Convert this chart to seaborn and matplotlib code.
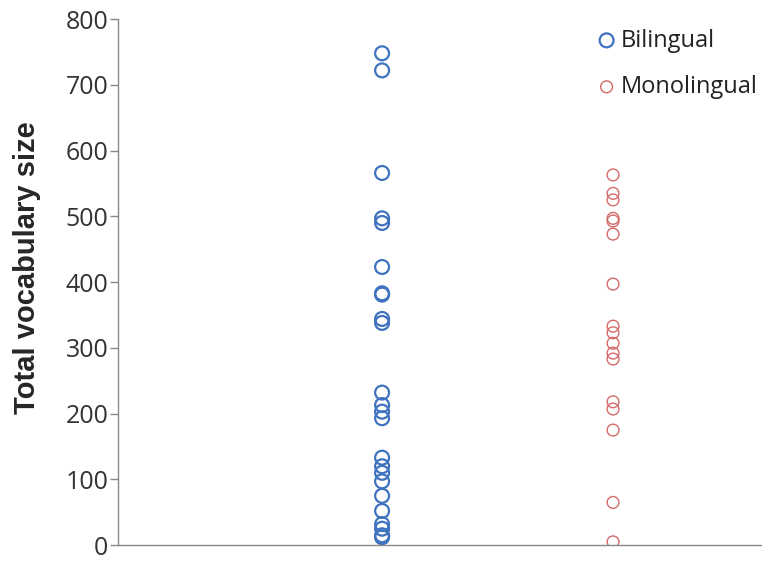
import numpy as np
import pandas as pd
import seaborn as sns
import matplotlib.pyplot as plt

groups = ['Bilingual', 'Monolingual']
bilingual = [748, 722, 566, 497, 490, 423, 383, 381, 344, 338, 232, 213, 203, 193,
             133, 120, 110, 97, 75, 52, 32, 25, 15, 12]
monolingual = [563, 535, 525, 497, 493, 473, 397, 333, 323, 307, 292, 283, 218, 207,
               175, 65, 5]
yticks = [0, 100, 200, 300, 400, 500, 600, 700, 800]

data = pd.DataFrame({
    'group': ['Bilingual'] * len(bilingual) + ['Monolingual'] * len(monolingual),
    'vocab': bilingual + monolingual,
})
data['pos'] = data['group'].map({'Bilingual': 1, 'Monolingual': 2})

sns.set_style('white')
plt.rcParams['font.family'] = ['Open Sans', 'DejaVu Sans']

fig = plt.figure(figsize=(7.62, 5.62), dpi=100)
ax = fig.add_axes([0.155, 0.030, 0.845, 0.936])

# colour, marker size, edge width
styles = {'Bilingual': ('#3F72BF', 100, 1.6), 'Monolingual': ('#D46A6A', 72, 1.0)}
for g in groups:
    c, s, lw = styles[g]
    sub = data[data['group'] == g]
    sns.scatterplot(x='pos', y='vocab', data=sub, ax=ax, s=s, marker='o',
                    facecolor='none', edgecolor=c, linewidth=lw, label=g)

ax.set_xlim(-0.143, 2.645)
ax.set_ylim(0, 800)
ax.set_yticks(yticks)
ax.set_xticks([])
ax.set_xlabel('')
ax.set_ylabel('Total vocabulary size', fontsize=21, fontweight='bold',
              family='Liberation Sans')
ax.yaxis.set_label_coords(-0.12, 0.527)
ax.tick_params(axis='y', length=6, width=1, color='#888888', direction='out',
               labelsize=18, labelcolor='#333333', left=True, pad=1)
for side in ['top', 'right']:
    ax.spines[side].set_visible(False)
for side in ['left', 'bottom']:
    ax.spines[side].set_color('#888888')
    ax.spines[side].set_linewidth(1)

leg = ax.legend(loc='upper left', bbox_to_anchor=(0.722, 1.0), frameon=False,
                fontsize=17, labelspacing=0.95, handletextpad=0.0,
                borderaxespad=0.0, handlelength=1.2)
for t in leg.get_texts():
    t.set_color('#222222')

fig.savefig('out.png', dpi=100)
